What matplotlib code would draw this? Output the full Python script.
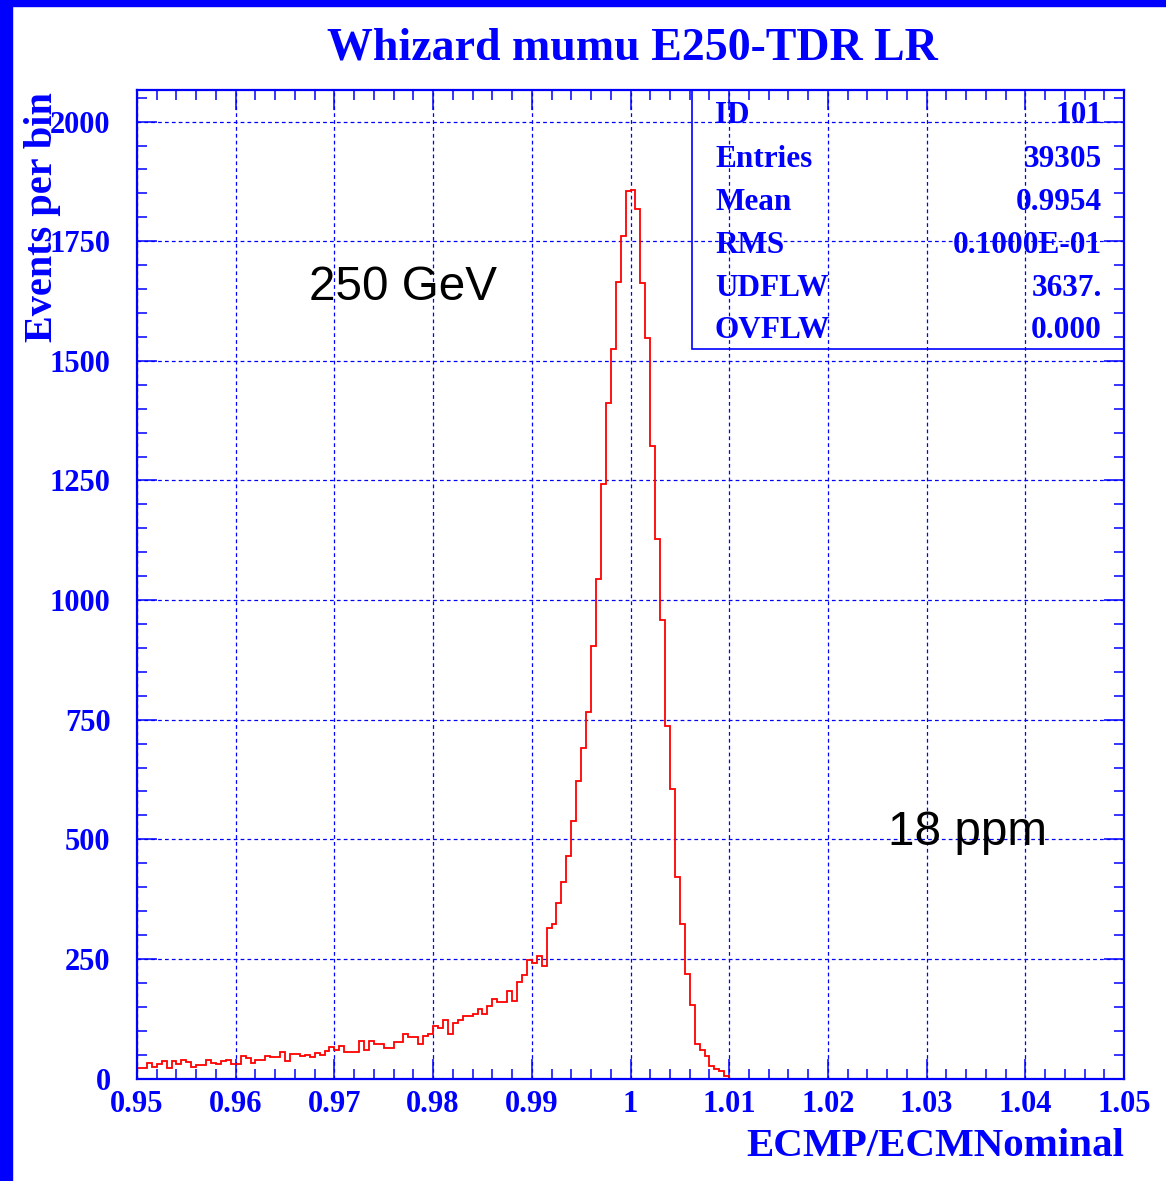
import matplotlib
matplotlib.use("Agg")
import matplotlib.pyplot as plt
from matplotlib.ticker import FixedLocator, FixedFormatter, MultipleLocator
from matplotlib.patches import Rectangle
import numpy as np

# ---- histogram: ECMP / ECMNominal, 200 bins from 0.95 to 1.05 ----
x_lo, x_hi, n_bins = 0.95, 1.05, 200
counts_filled = [
    22, 22, 33, 24, 31, 36, 21, 36, 31, 38,
    34, 24, 28, 28, 39, 33, 31, 36, 38, 31,
    31, 46, 42, 33, 39, 38, 48, 45, 45, 56,
    36, 52, 52, 48, 50, 45, 53, 49, 57, 66,
    60, 67, 56, 56, 56, 78, 59, 78, 73, 73,
    64, 64, 77, 77, 94, 87, 87, 73, 89, 94,
    110, 106, 122, 92, 117, 122, 131, 131, 134, 145,
    134, 151, 167, 160, 160, 183, 162, 202, 216, 248,
    241, 255, 236, 315, 323, 367, 411, 465, 539, 621,
    691, 766, 904, 1044, 1242, 1412, 1525, 1665, 1760, 1855,
    1857, 1817, 1663, 1548, 1321, 1127, 959, 736, 605, 422,
    323, 218, 153, 72, 59, 48, 27, 20, 16, 5,
]
counts_empty = [0] * (n_bins - len(counts_filled))
counts = np.array(counts_filled + counts_empty, dtype=float)
edges = np.linspace(x_lo, x_hi, n_bins + 1)

x_ticks = [0.95, 0.96, 0.97, 0.98, 0.99, 1.00, 1.01, 1.02, 1.03, 1.04, 1.05]
x_tick_labels = ["0.95", "0.96", "0.97", "0.98", "0.99", "1",
                 "1.01", "1.02", "1.03", "1.04", "1.05"]
y_ticks = [0, 250, 500, 750, 1000, 1250, 1500, 1750, 2000]
y_tick_labels = [str(v) for v in y_ticks]
y_top = 2066

title = "Whizard mumu E250-TDR LR"
x_label = "ECMP/ECMNominal"
y_label = "Events per bin"

stat_names = ["ID", "Entries", "Mean", "RMS", "UDFLW", "OVFLW"]
stat_values = ["101", "39305", "0.9954", "0.1000E-01", "3637.", "0.000"]

notes = [("250 GeV", 0.96743, 1627), ("18 ppm", 1.02609, 488)]

# ---- styling ----
BLUE = "#0000FF"
SERIF = ["Liberation Serif", "DejaVu Serif"]
SANS = ["Liberation Sans", "DejaVu Sans"]
plt.rcParams["font.family"] = SERIF

W, H = 1166, 1181
fig = plt.figure(figsize=(W / 100, H / 100), dpi=100)
fig.patch.set_facecolor("white")


def fpx(x, y):
    """Pixel position (from top-left) to figure fraction."""
    return x / W, 1 - y / H


# slide decoration: blue bars on the left and top edges
fig.patches.append(Rectangle((0, 0), 12 / W, 1, transform=fig.transFigure,
                             color=BLUE, zorder=0))
fig.patches.append(Rectangle((0, 1 - 5.5 / H), 1, 5.5 / H,
                             transform=fig.transFigure, color=BLUE, zorder=0))

ax_l, ax_r, ax_t, ax_b = 137, 1124, 90, 1078.5
ax = fig.add_axes([ax_l / W, 1 - ax_b / H, (ax_r - ax_l) / W, (ax_b - ax_t) / H])

# the histogram sits under the frame so the empty bins hide behind the x axis
ax.stairs(counts, edges, color="#FF0000", linewidth=1.3, zorder=2.2)

ax.set_xlim(x_lo, x_hi)
ax.set_ylim(0, y_top)

ax.xaxis.set_major_locator(FixedLocator(x_ticks))
ax.xaxis.set_major_formatter(FixedFormatter(x_tick_labels))
ax.xaxis.set_minor_locator(MultipleLocator(0.002))
ax.yaxis.set_major_locator(FixedLocator(y_ticks))
ax.yaxis.set_major_formatter(FixedFormatter(y_tick_labels))
ax.yaxis.set_minor_locator(MultipleLocator(50))

ax.tick_params(which="both", direction="in", top=True, right=True,
               color=BLUE, width=1.1)
ax.tick_params(which="major", length=14.5)
ax.tick_params(which="minor", length=7)
ax.tick_params(axis="x", which="major", pad=8.5, labelsize=22,
               labelcolor=BLUE)
ax.tick_params(axis="y", which="major", pad=19, labelsize=22,
               labelcolor=BLUE)
for lab in ax.get_xticklabels() + ax.get_yticklabels():
    lab.set_fontweight("bold")

for sp in ax.spines.values():
    sp.set_color(BLUE)
    sp.set_linewidth(1.6)
    sp.set_zorder(2.6)

ax.grid(True, which="major", color=BLUE, linestyle=(0, (3, 2.5)),
        linewidth=0.9, zorder=1)
ax.set_axisbelow(True)

# statistics box (transparent, outlined)
box_l, box_b = 692, 349
bx0 = (box_l - ax_l) / (ax_r - ax_l)
by0 = (ax_b - box_b) / (ax_b - ax_t)
ax.add_patch(Rectangle((bx0, by0), 1 - bx0, 1 - by0, transform=ax.transAxes,
                       fill=False, edgecolor=BLUE, linewidth=1.2, zorder=4,
                       clip_on=False))
row_baselines = [122.7, 166.7, 209.5, 252.7, 295.5, 338.5]
for name, val, yb in zip(stat_names, stat_values, row_baselines):
    fig.text(*fpx(715, yb), name, color=BLUE, fontsize=22.5,
             fontweight="bold", ha="left", va="baseline", zorder=5)
    fig.text(*fpx(1102, yb), val, color=BLUE, fontsize=22.5,
             fontweight="bold", ha="right", va="baseline", zorder=5)

# annotations
for txt, xv, yv in notes:
    ax.text(xv, yv, txt, family=SANS, fontsize=34.3, color="black",
            ha="left", va="baseline", zorder=5)

# title and axis labels
fig.text(*fpx(632, 60), title, color=BLUE, fontsize=33, fontweight="bold",
         ha="center", va="baseline")
fig.text(*fpx(1124, 1155.5), x_label, color=BLUE, fontsize=29.5,
         fontweight="bold", ha="right", va="baseline")
fig.text(*fpx(52, 92), y_label, color=BLUE, fontsize=29,
         fontweight="bold", rotation=90, rotation_mode="anchor",
         ha="right", va="baseline")

fig.savefig("out.png", dpi=100)
